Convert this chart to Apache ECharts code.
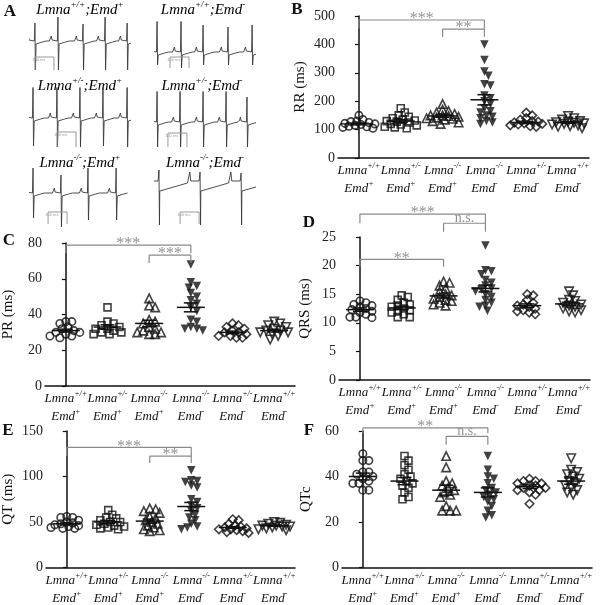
<!DOCTYPE html>
<html>
<head>
<meta charset="utf-8">
<script src="https://cdn.jsdelivr.net/npm/echarts@6/dist/echarts.min.js"></script>
<style>html,body{margin:0;padding:0;background:#fff}#main{width:600px;height:605px}</style>
</head>
<body>
<div id="main"></div>
<script>
const SERIF = '"Liberation Serif", "Times New Roman", serif';

// genotypes of the six groups (x categories)
const lmnaGeno = ['+/+', '+/-', '-/-', '-/-', '+/-', '+/+'];
const emdGeno = ['+', '+', '+', '-', '-', '-'];
const groupSymbols = ['circle', 'rect', 'triangle', 'triangle', 'diamond', 'triangle'];
const groupRotate = [0, 0, 0, 180, 0, 180];
const groupFilled = [false, false, false, true, false, false];
const groupSize = [7.5, 7, 8.5, 8.5, 8.5, 8.5];

// RR (ms)
const rrValues = [
    [150, 135, 130, 128, 125, 122, 120, 118, 115, 112, 110, 108, 105],
    [175, 160, 150, 145, 140, 135, 132, 130, 128, 125, 120, 118, 115, 110, 108, 105],
    [190, 170, 165, 160, 155, 150, 150, 148, 145, 142, 140, 138, 135, 130, 125, 120],
    [400, 345, 305, 290, 260, 255, 220, 210, 200, 190, 175, 165, 160, 150, 145, 140, 130, 125, 120],
    [160, 150, 140, 135, 130, 128, 125, 122, 120, 118, 115, 112, 110],
    [148, 140, 135, 130, 128, 126, 124, 122, 120, 118, 115, 112, 110, 105]
];
const rrMeans = [120, 130, 148, 205, 125, 125];
const rrSems = [3, 5, 5, 18, 4, 3];
const rrBrackets = [[0, 3, 486, 456, '***'], [2, 3, 454, 427, '**']];

// PR (ms)
const prValues = [
    [36, 36, 35, 33, 32, 31, 30, 30, 29, 28, 28, 27],
    [44, 36, 35, 34, 33, 32, 32, 31, 30, 30, 29, 29],
    [49, 45, 44, 37, 36, 35, 33, 32, 31, 30, 30, 29, 29],
    [68, 58, 56, 55, 52, 50, 48, 46, 44, 42, 37, 36, 33, 32, 32, 31],
    [35, 34, 33, 32, 31, 30, 30, 29, 28, 28, 27, 27],
    [36, 35, 34, 33, 32, 31, 31, 30, 30, 29, 28, 26]
];
const prMeans = [31, 33, 35, 44, 30, 31];
const prSems = [0.8, 1.2, 1.8, 2.5, 0.7, 0.8];
const prBrackets = [[0, 3, 78.8, 74.3, '***'], [2, 3, 73.2, 68.8, '***']];

// QRS (ms)
const qrsValues = [
    [13.8, 13.5, 13.2, 13.0, 12.8, 12.5, 12.3, 12.0, 11.8, 11.5, 11.0, 11.0, 10.9],
    [14.8, 14.5, 14.0, 13.5, 13.2, 13.0, 12.8, 12.5, 12.2, 12.0, 11.8, 11.5, 11.0, 11.0],
    [17.2, 17.0, 16.5, 16.0, 15.5, 15.0, 14.8, 14.5, 14.2, 14.0, 13.8, 13.5, 13.2, 13.0],
    [23.5, 19.2, 19.0, 18.5, 17.5, 17.0, 16.5, 16.0, 15.8, 15.5, 15.0, 14.5, 14.0, 13.5, 13.0, 12.8, 12.1],
    [15.0, 14.8, 14.0, 13.5, 13.2, 13.0, 12.8, 12.5, 12.2, 12.0, 11.8, 11.5],
    [15.5, 14.8, 14.0, 13.8, 13.5, 13.2, 13.0, 12.8, 12.5, 12.2, 12.0, 11.8]
];
const qrsMeans = [12.3, 12.6, 14.7, 16.0, 13.0, 13.3];
const qrsSems = [0.3, 0.3, 0.35, 0.6, 0.3, 0.3];
const qrsBrackets = [[0, 3, 29.0, 27.4, '***'], [2, 3, 27.4, 25.9, 'n.s.'], [0, 2, 21.1, 19.8, '**']];

// QT (ms)
const qtValues = [
    [56, 55, 55, 52, 50, 49, 48, 47, 46, 45, 44, 43, 43],
    [63, 58, 55, 54, 52, 50, 50, 48, 47, 46, 45, 44, 43, 42],
    [65, 64, 62, 60, 56, 54, 52, 50, 48, 46, 44, 42, 41, 40],
    [107, 96, 95, 94, 90, 88, 75, 72, 68, 65, 62, 58, 55, 52, 48, 45, 44, 42],
    [53, 52, 48, 46, 45, 44, 43, 42, 42, 41, 40, 39, 38],
    [50, 49, 48, 47, 46, 46, 45, 45, 44, 43, 42, 41]
];
const qtMeans = [48, 50, 51, 67, 44, 46];
const qtSems = [1, 1.5, 2.2, 4.5, 1, 0.7];
const qtBrackets = [[0, 3, 132, 122.5, '***'], [2, 3, 122.5, 114.8, '**']];

// QTc
const qtcValues = [
    [50, 47, 47, 42, 42, 41, 40, 39, 38, 37, 37, 34, 34],
    [49, 47, 45, 43, 41, 40, 39, 38, 37, 36, 35, 33, 31, 30],
    [49, 44, 38, 37, 36, 35, 34, 33, 32, 31, 27, 25, 25, 25],
    [49, 43, 40, 39, 37, 35, 34, 33, 32, 31, 30, 29, 27, 25, 23, 22],
    [39, 38, 38, 37, 37, 36, 36, 35, 35, 34, 34, 33, 32, 28],
    [48, 43, 42, 41, 40, 39, 38, 37, 36, 35, 34, 33, 32]
];
const qtcMeans = [40, 38, 34, 33, 35.5, 38];
const qtcSems = [1.5, 1.6, 2.2, 2, 0.8, 1.4];
const qtcBrackets = [[0, 3, 61.4, 59.0, '**'], [2, 3, 57.6, 54.0, 'n.s.']];

// ECG traces (panel A): R-peak times (ms), spike heights up / down
const traceLmna = ['+/+', '+/+', '+/-', '+/-', '-/-', '-/-'];
const traceEmd = ['+', '-', '+', '-', '+', '-'];
const traceBeats = [
    [26, 147, 279, 395, 511],
    [11, 137, 253, 384, 511],
    [16, 142, 263, 384, 511],
    [11, 132, 253, 374, 484],
    [16, 163, 305, 453],
    [21, 237, 453]
];
const traceUp = [
    [18, 24, 17, 24, 18],
    [37, 37, 27, 25, 27],
    [37, 38, 38, 37, 38],
    [37, 40, 34, 34, 25],
    [25, 18, 25, 25],
    [12, 10, 9]
];
const traceDown = [
    [29, 29, 29, 29, 29],
    [13, 16, 13, 13, 13],
    [28, 29, 29, 28, 29],
    [25, 25, 25, 25, 25],
    [25, 34, 27, 27],
    [43, 43, 43]
];
// beat shape around the R peak: [ms, amplitude]
const beatPre = [[-45, 0], [-39, 1.5], [-35, 5], [-31, 1], [-25, 0], [-3, 0]];
const beatPost = [[6, -3], [14, -2], [40, -1], [60, 0]];
const driftPre = [[-60, 0], [-54, 10], [-49, 1], [-5, 1]];
const driftPost = [[4, -9], [12, -8], [150, -1]];
// 100 ms scale bars: [start ms, top, bottom]
const scaleBars = [[26, -16, -29], [79, -5, -16], [142, -14, -29], [68, -11, -25], [95, -19, -31], [132, -30, -42]];
const TRACE_SPAN = 526;

const panels = [
    { letter: 'B', name: 'RR (ms)', max: 500, step: 100, values: rrValues, means: rrMeans, sems: rrSems, brackets: rrBrackets,
      box: { left: 338, top: 16, width: 251, height: 142 }, nameGap: 30, letterPos: [297, 10] },
    { letter: 'C', name: 'PR (ms)', max: 80, step: 20, values: prValues, means: prMeans, sems: prSems, brackets: prBrackets,
      box: { left: 43, top: 243, width: 252, height: 143 }, nameGap: 29, letterPos: [9, 241] },
    { letter: 'D', name: 'QRS (ms)', max: 25, step: 5, values: qrsValues, means: qrsMeans, sems: qrsSems, brackets: qrsBrackets,
      box: { left: 339, top: 237, width: 251, height: 143 }, nameGap: 26, letterPos: [309, 223] },
    { letter: 'E', name: 'QT (ms)', max: 150, step: 50, values: qtValues, means: qtMeans, sems: qtSems, brackets: qtBrackets,
      box: { left: 43, top: 431, width: 252, height: 142 }, nameGap: 30, letterPos: [8, 431] },
    { letter: 'F', name: 'QTc', max: 60, step: 20, values: qtcValues, means: qtcMeans, sems: qtcSems, brackets: qtcBrackets,
      box: { left: 342, top: 431, width: 250, height: 141 }, nameGap: 28, letterPos: [309, 431] }
];

// trace grid placement: [left, baseline y]
const traceBoxes = [[30, 41], [155, 52], [30, 118], [155, 122], [30, 193], [155, 182]];
const traceTitlePos = [[80, 10], [203, 10], [80, 86], [202, 86], [80, 163], [205, 163]];

const supRich = (size, sup) => ({
    i: { fontFamily: SERIF, fontStyle: 'italic', fontSize: size, color: '#111', lineHeight: size + 5 },
    s: { fontFamily: SERIF, fontStyle: 'italic', fontSize: sup, color: '#111', verticalAlign: 'top', lineHeight: sup + 2 }
});

/**
 * 简单蜂群布局: 把重叠的点向两侧错开
 */
function swarm(vals, g, pxPerUnit, band) {
    const placed = [];
    const out = [];
    vals.slice().sort((a, b) => b - a).forEach(v => {
        const y = v * pxPerUnit;
        let best = 0, bestGap = -1;
        for (let k = 0; k <= 16; k++) {
            const dx = (k % 2 ? 1 : -1) * Math.ceil(k / 2) * 2;
            let gap = Infinity;
            placed.forEach(p => { gap = Math.min(gap, Math.hypot(p.x - dx, p.y - y)); });
            if (gap >= 5.5) { best = dx; break; }
            if (gap > bestGap) { bestGap = gap; best = dx; }
        }
        placed.push({ x: best, y });
        out.push([g + best / band, v]);
    });
    return out;
}

function buildTrace(j) {
    const pts = [];
    const pre = j === 5 ? driftPre : beatPre;
    const post = j === 5 ? driftPost : beatPost;
    traceBeats[j].forEach((b, k) => {
        pre.forEach(p => pts.push([b + p[0], p[1]]));
        pts.push([b, traceUp[j][k]]);
        pts.push([b + 2.5, -traceDown[j][k]]);
        post.forEach(p => pts.push([b + p[0], p[1]]));
    });
    return pts;
}

const grids = [], xAxes = [], yAxes = [], series = [], graphics = [];

panels.forEach((p, i) => {
    grids.push(p.box);
    xAxes.push({
        type: 'category', gridIndex: i,
        data: lmnaGeno.map((l, g) => `{i|Lmna}{s|${l}}\n{i|Emd}{s|${emdGeno[g]}}`),
        axisLine: { lineStyle: { color: '#111', width: 1.5 } },
        axisTick: { alignWithLabel: true, length: 4, lineStyle: { color: '#111', width: 1.2 } },
        axisLabel: { interval: 0, margin: 4, rich: supRich(13, 8) }
    });
    xAxes.push({ type: 'value', gridIndex: i, min: -0.5, max: 5.5, show: false });
    yAxes.push({
        type: 'value', gridIndex: i, min: 0, max: p.max, interval: p.step,
        name: p.name, nameLocation: 'middle', nameGap: p.nameGap,
        nameTextStyle: { fontFamily: SERIF, fontSize: 15, color: '#111' },
        axisLine: { show: true, lineStyle: { color: '#111', width: 1.5 } },
        axisTick: { show: true, length: 4, lineStyle: { color: '#111', width: 1.2 } },
        axisLabel: { fontFamily: SERIF, fontSize: 14, color: '#222', margin: 3 },
        splitLine: { show: false }
    });
    graphics.push({ type: 'text', x: p.letterPos[0], y: p.letterPos[1],
        style: { text: p.letter, font: 'bold 17px ' + SERIF, fill: '#111', align: 'center', verticalAlign: 'middle' } });

    const xa = 2 * i + 1;
    const pxPerUnit = p.box.height / p.max;
    const band = p.box.width / 6;
    p.values.forEach((vals, g) => {
        series.push({
            type: 'scatter', xAxisIndex: xa, yAxisIndex: i, silent: true, clip: false, z: 2,
            data: swarm(vals, g, pxPerUnit, band),
            symbol: groupSymbols[g], symbolSize: groupSize[g], symbolRotate: groupRotate[g],
            itemStyle: groupFilled[g]
                ? { color: '#111', borderWidth: 0 }
                : { color: 'rgba(0,0,0,0)', borderColor: '#111', borderWidth: 1.6 }
        });
    });
    // 均值 ± SEM
    series.push({
        type: 'custom', xAxisIndex: xa, yAxisIndex: i, silent: true, z: 5,
        data: p.means.map((m, g) => [g, m, p.sems[g]]),
        renderItem: (params, api) => {
            const x = api.value(0), m = api.value(1), s = api.value(2);
            const c = api.coord([x, m]), hi = api.coord([x, m + s]), lo = api.coord([x, m - s]);
            const st = { stroke: '#111', lineWidth: 1.5 };
            return { type: 'group', children: [
                { type: 'line', shape: { x1: c[0] - 14, y1: c[1], x2: c[0] + 14, y2: c[1] }, style: st },
                { type: 'line', shape: { x1: c[0], y1: hi[1], x2: c[0], y2: lo[1] }, style: st },
                { type: 'line', shape: { x1: c[0] - 7, y1: hi[1], x2: c[0] + 7, y2: hi[1] }, style: st },
                { type: 'line', shape: { x1: c[0] - 7, y1: lo[1], x2: c[0] + 7, y2: lo[1] }, style: st }
            ] };
        }
    });
    // 显著性括号
    p.brackets.forEach(b => {
        series.push({
            type: 'line', xAxisIndex: xa, yAxisIndex: i, silent: true, clip: false, symbol: 'none',
            data: [[b[0], b[3]], [b[0], b[2]], [b[1], b[2]], [b[1], b[3]]],
            lineStyle: { color: '#8a8a8a', width: 1.2 }
        });
        const stars = b[4] !== 'n.s.';
        series.push({
            type: 'scatter', xAxisIndex: xa, yAxisIndex: i, silent: true, clip: false, symbolSize: 0,
            data: [[(b[0] + b[1]) / 2, b[2]]],
            label: { show: true, position: 'top', distance: 0, offset: [0, stars ? 7 : 2], formatter: b[4],
                fontFamily: SERIF, fontSize: stars ? 16 : 14, color: '#777' }
        });
    });
});

traceBoxes.forEach((t, j) => {
    const gi = panels.length + j;
    grids.push({ left: t[0], top: t[1] - 30, width: 100, height: 75 });
    xAxes.push({ type: 'value', gridIndex: gi, min: 0, max: TRACE_SPAN, show: false });
    yAxes.push({ type: 'value', gridIndex: gi, min: -45, max: 30, show: false });
    const xa = 2 * panels.length + j, ya = gi;
    series.push({
        type: 'line', xAxisIndex: xa, yAxisIndex: ya, silent: true, symbol: 'none',
        data: buildTrace(j), lineStyle: { color: '#3a3a3a', width: 0.9 }
    });
    const sb = scaleBars[j];
    series.push({
        type: 'line', xAxisIndex: xa, yAxisIndex: ya, silent: true, symbol: 'none', clip: false,
        data: [[sb[0], sb[2]], [sb[0], sb[1]], [sb[0] + 100, sb[1]], [sb[0] + 100, sb[2]]],
        lineStyle: { color: '#999', width: 1 }
    });
    series.push({
        type: 'scatter', xAxisIndex: xa, yAxisIndex: ya, silent: true, clip: false, symbolSize: 0,
        data: [[sb[0] + 20, sb[1]]],
        label: { show: true, position: 'bottom', distance: 1, formatter: '100 ms', fontSize: 4, color: '#888' }
    });
    graphics.push({ type: 'text', x: traceTitlePos[j][0], y: traceTitlePos[j][1],
        style: { text: `{i|Lmna}{s|${traceLmna[j]}}{i|;Emd}{s|${traceEmd[j]}}`, rich: supRich(15, 9),
            align: 'center', verticalAlign: 'middle' } });
});

graphics.push({ type: 'text', x: 10, y: 12,
    style: { text: 'A', font: 'bold 17px ' + SERIF, fill: '#111', align: 'center', verticalAlign: 'middle' } });

const chart = echarts.init(document.getElementById('main'));
chart.setOption({
    animation: false,
    backgroundColor: '#fff',
    grid: grids,
    xAxis: xAxes,
    yAxis: yAxes,
    series: series,
    graphic: graphics
});
</script>
</body>
</html>
